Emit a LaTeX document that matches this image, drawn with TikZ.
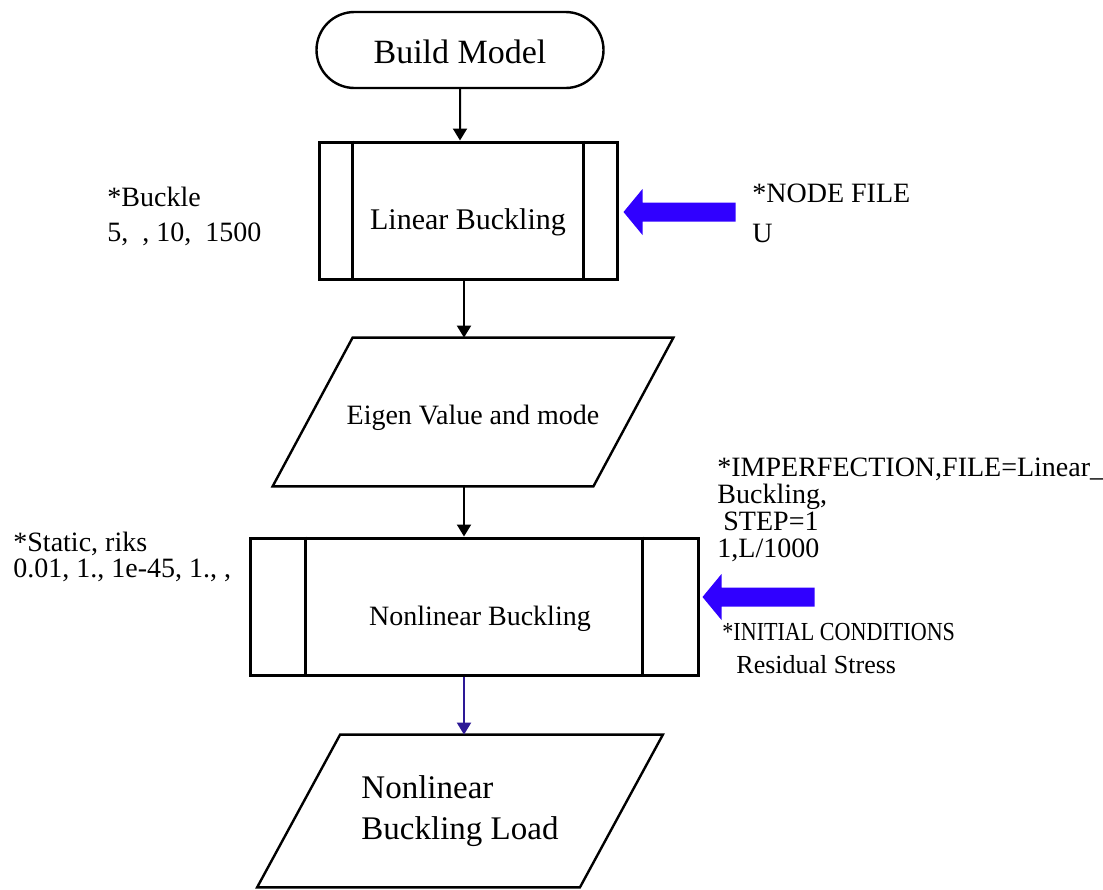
\documentclass[tikz,border=0pt]{standalone}
\usepackage{fontspec}
\setmainfont{Liberation Serif}
\usepackage{tikz}
\usetikzlibrary{positioning,calc,shapes.misc,arrows.meta}

\definecolor{fatblue}{RGB}{48,0,255}
\definecolor{navyline}{RGB}{45,25,150}

\tikzset{
	flow/.style={-{Triangle[length=6pt,width=7pt]},line width=1pt},
	proc/.style={draw,line width=1.5pt,minimum height=68.5pt,inner sep=0pt,text height=22pt,text depth=3pt,font=\fontsize{15}{18}\selectfont},
	note/.style={anchor=base west,align=left,inner sep=0pt,font=\fontsize{14}{17.5}\selectfont},
	fatarrow/.pic={\fill[fatblue] (0,0) -- (19,-23) -- (19,-9.5) -- (112,-9.5) -- (112,9.5) -- (19,9.5) -- (19,23) -- cycle;}
}

\begin{document}
\begin{tikzpicture}[x=0.5pt,y=-0.5pt]
		\useasboundingbox (0,0) rectangle (1103,889);
		\node[draw,rounded rectangle,line width=1.2pt,minimum width=143.5pt,minimum height=38pt,inner sep=0pt,text height=16pt,text depth=3pt,font=\fontsize{17}{20}\selectfont] (bm) at (460,50) {Build Model};
		\node[proc,minimum width=149pt] (lin) at (468,210.5) {Linear Buckling};
		\node[minimum width=160pt,minimum height=74pt,inner sep=0pt,text height=15pt,text depth=3pt,font=\fontsize{14}{17}\selectfont] (eig) at (473,412) {Eigen Value and mode};
		\node[proc,minimum width=224pt,font=\fontsize{14}{17}\selectfont] (nl) at (474,606.5) {\hspace*{6pt}Nonlinear Buckling};
		\node[minimum width=161pt,minimum height=76pt,inner sep=0pt,align=left,font=\fontsize{16.5}{20.5}\selectfont] (res) at (460,811) {Nonlinear\\Buckling Load};
		% side bars
		\draw[line width=1.5pt] ($(lin.north west)+(35,0)$) -- ($(lin.south west)+(35,0)$)
			($(lin.north east)+(-35,0)$) -- ($(lin.south east)+(-35,0)$);
		\draw[line width=1.5pt] ($(nl.north west)+(57,0)$) -- ($(nl.south west)+(57,0)$)
			($(nl.north east)+(-57,0)$) -- ($(nl.south east)+(-57,0)$);
		% data boxes
		\draw[line width=1.2pt] ($(eig.north west)+(40,0)$) -- ($(eig.north east)+(40,0)$) -- ($(eig.south east)+(-40,0)$) -- ($(eig.south west)+(-40,0)$) -- cycle;
		\draw[line width=1.2pt] ($(res.north west)+(41.5,0)$) -- ($(res.north east)+(41.5,0)$) -- ($(res.south east)+(-41.5,0)$) -- ($(res.south west)+(-41.5,0)$) -- cycle;
		\coordinate (spine) at (464,0);
		\draw[flow] (bm) -- (bm |- lin.north);
		\draw[flow] (lin.south -| spine) -- (eig.north -| spine);
		\draw[flow] (eig.south -| spine) -- (nl.north -| spine);
		\draw[flow,navyline] (nl.south -| spine) -- (res.north -| spine);
		\coordinate (tip1) at ($(lin.east)+(5,1.5)$);
		\coordinate (tip2) at ($(nl.east)+(3,-9.5)$);
		\pic at (tip1) {fatarrow};
		\pic at (tip2) {fatarrow};
		% keyword notes (anchored at the last baseline)
		\node[note] (bk) at (107,241) {*Buckle\\5,\ \ ,\ 10,\ \ 1500};
		\node[note,font=\fontsize{14}{20}\selectfont] (nf) at (752,242) {*NODE FILE\\U};
		\node[note,font=\fontsize{14}{13.5}\selectfont] (imp) at (717,557) {*IMPERFECTION,FILE=Linear\_\\Buckling,\\\hspace*{3pt}STEP=1\\1,L/1000};
		\node[note,font=\fontsize{14}{13}\selectfont] (st) at (13,577) {*Static, riks\\0.01, 1., 1e-45, 1., ,};
		\node[note,font=\fontsize{13}{15}\selectfont] (ic) at (722,640) {\scalebox{0.85}[1]{*INITIAL CONDITIONS}};
		\node[note,font=\fontsize{13}{15}\selectfont] (rs) at (736,673) {Residual Stress};
	\end{tikzpicture}
\end{document}
